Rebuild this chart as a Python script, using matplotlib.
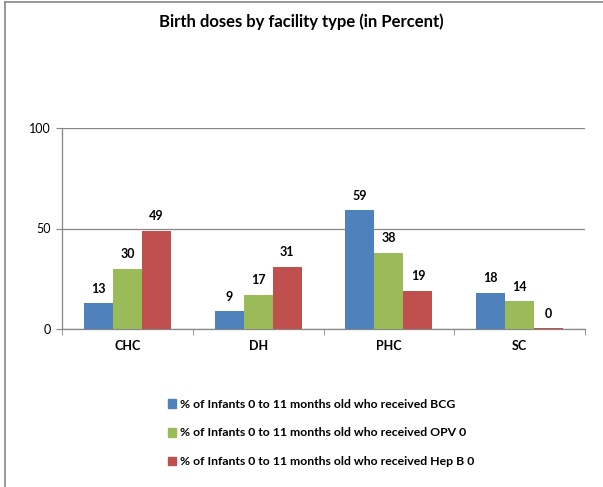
import numpy as np
import matplotlib.pyplot as plt
from matplotlib.lines import Line2D

# data
facilities = ["CHC", "DH", "PHC", "SC"]
bcg = [13, 9, 59, 18]
opv0 = [30, 17, 38, 14]
hepb0 = [49, 31, 19, 0.4]
series_names = [
    "% of Infants 0 to 11 months old who received BCG",
    "% of Infants 0 to 11 months old who received OPV 0",
    "% of Infants 0 to 11 months old who received Hep B 0",
]
colors = ["#4F81BD", "#9BBB59", "#C0504D"]

plt.rcParams['font.family'] = ['Lato', 'DejaVu Sans']

fig = plt.figure(figsize=(6.03, 4.87), dpi=100)
ax = fig.add_axes([62 / 603, 1 - 329 / 487, 523 / 603, 201 / 487])

x = np.arange(len(facilities))
w = 1 / 4.5  # gap width 150%
for i, (vals, c) in enumerate(zip([bcg, opv0, hepb0], colors)):
    pos = x + (i - 1) * w
    ax.bar(pos, vals, width=w, color=c, zorder=3)
    for xp, v in zip(pos, vals):
        ax.annotate(f"{v:.0f}", (xp, v), xytext=(0, 6), textcoords="offset points",
                    ha="center", va="bottom", fontsize=9, fontweight="bold")

ax.set_xlim(-0.5, len(facilities) - 0.5)
ax.set_ylim(0, 100)
ax.set_yticks([0, 50, 100])
ax.tick_params(axis="y", labelsize=9, length=4, color="#878787", pad=4)
ax.yaxis.grid(True, color="#878787", linewidth=0.9, zorder=0)

ax.set_xticks(x)
ax.set_xticklabels(facilities, fontsize=9, fontweight="bold")
ax.tick_params(axis="x", length=0, pad=8)
ax.set_xticks(np.arange(len(facilities) + 1) - 0.5, minor=True)
ax.tick_params(axis="x", which="minor", length=4, color="#878787")

for s in ["top", "right"]:
    ax.spines[s].set_visible(False)
for s in ["left", "bottom"]:
    ax.spines[s].set_color("#878787")
    ax.spines[s].set_linewidth(0.9)

fig.text(0.5, 1 - 22 / 487, "Birth doses by facility type (in Percent)",
         ha="center", va="center", fontsize=12, fontweight="bold")

handles = [plt.Rectangle((0, 0), 1, 1, color=c) for c in colors]
fig.legend(handles, series_names, loc="center", bbox_to_anchor=(321 / 603, 1 - 433 / 487),
           frameon=False, handlelength=0.7, handleheight=0.7, handletextpad=0.3,
           labelspacing=1.45, prop={"size": 8.8, "weight": "bold"})

# chart border (top and left edges visible)
fig.add_artist(Line2D([5 / 603, 5 / 603], [0, 1 - 2 / 487], transform=fig.transFigure,
                      color="#878787", linewidth=1.2))
fig.add_artist(Line2D([5 / 603, 1], [1 - 2 / 487, 1 - 2 / 487], transform=fig.transFigure,
                      color="#878787", linewidth=1.2))

fig.savefig("out.png", dpi=100)
